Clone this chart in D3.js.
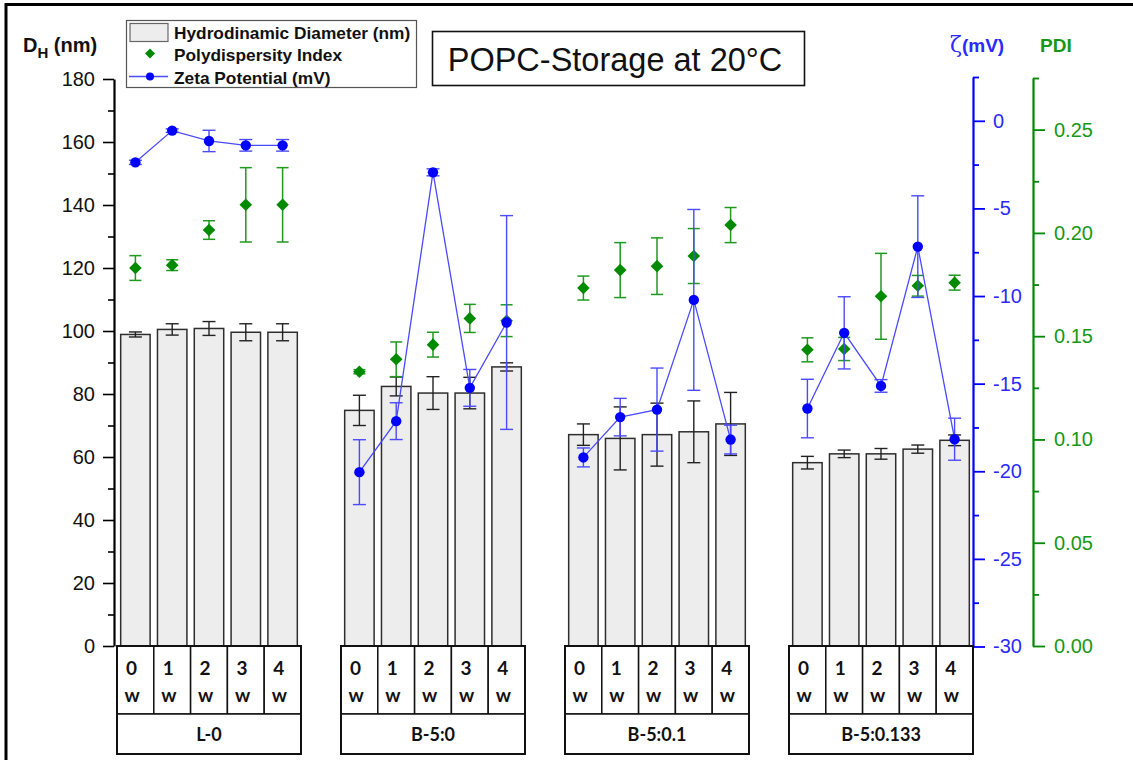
<!DOCTYPE html>
<html>
<head>
<meta charset="utf-8">
<script src="https://cdn.jsdelivr.net/npm/d3@7"></script>
<style>
  html, body { margin: 0; padding: 0; background: #fff; }
  svg { display: block; }
</style>
</head>
<body>
<div id="chart"></div>
<script>
// Sample groups and storage weeks
const groups = ["L-0", "B-5:0", "B-5:0.1", "B-5:0.133"];
const weeks = ["0", "1", "2", "3", "4"];

// Hydrodynamic diameter (nm) and its standard deviation, per group x week
const dh = [
  [98.9, 100.5, 100.8, 99.6, 99.6],
  [74.8, 82.4, 80.3, 80.3, 88.6],
  [67.1, 65.9, 67.1, 68.0, 70.5],
  [58.2, 61.0, 61.0, 62.5, 65.3]
];
const dhErr = [
  [0.8, 1.8, 2.2, 2.7, 2.7],
  [4.8, 3.0, 5.2, 5.0, 1.3],
  [3.4, 10.0, 10.0, 9.8, 10.0],
  [2.0, 1.2, 1.7, 1.3, 1.7]
];

// Zeta potential (mV)
const zeta = [
  [-2.37, -0.56, -1.15, -1.40, -1.40],
  [-20.05, -17.14, -2.94, -15.24, -11.51],
  [-19.21, -16.91, -16.48, -10.22, -18.19],
  [-16.42, -12.10, -15.13, -7.18, -18.17]
];
const zetaErr = [
  [0.12, 0.10, 0.61, 0.33, 0.33],
  [1.85, 1.05, 0.20, 1.05, 6.10],
  [0.54, 1.07, 2.37, 5.16, 0.82],
  [1.67, 2.06, 0.36, 2.90, 1.20]
];

// Polydispersity index
const pdi = [
  [0.1830, 0.1844, 0.2014, 0.2136, 0.2136],
  [0.1328, 0.1388, 0.1459, 0.1586, 0.1575],
  [0.1733, 0.1820, 0.1839, 0.1888, 0.2038],
  [0.1434, 0.1438, 0.1693, 0.1744, 0.1759]
];
const pdiErr = [
  [0.0060, 0.0026, 0.0045, 0.0180, 0.0180],
  [0.0010, 0.0084, 0.0060, 0.0068, 0.0077],
  [0.0058, 0.0133, 0.0137, 0.0133, 0.0085],
  [0.0058, 0.0056, 0.0208, 0.0050, 0.0036]
];

// Axis ticks
const dhTicks = [0, 20, 40, 60, 80, 100, 120, 140, 160, 180];
const dhMinor = [10, 30, 50, 70, 90, 110, 130, 150, 170];
const zetaTicks = [-30, -25, -20, -15, -10, -5, 0];
const zetaMinor = [-27.5, -22.5, -17.5, -12.5, -7.5, -2.5, 2.5];
const pdiTicks = [0, 0.05, 0.10, 0.15, 0.20, 0.25];
const pdiMinor = [0.025, 0.075, 0.125, 0.175, 0.225, 0.275];

const W = 1133, H = 760;
const BASE = 646;
const AXL = 114, AXZ = 973, AXP = 1033;

const BLUE = "#0000ff", BLUE_T = "#2a2aff", BLUE_L = "#4a4aff";
const GREEN = "#008800", GREEN_T = "#169816", GREEN_D = "#008a00";
const FONT = "'Liberation Sans', Arial, sans-serif";
const CELLFONT = "Lato, 'Open Sans', sans-serif";

const svg = d3.select("#chart").append("svg")
  .attr("width", W).attr("height", H)
  .attr("viewBox", `0 0 ${W} ${H}`);

svg.append("rect").attr("width", W).attr("height", H).attr("fill", "#fff");

// outer frame (top and left edges)
svg.append("path")
  .attr("d", `M6,${H} L6,4.5 L${W},4.5`)
  .attr("fill", "none").attr("stroke", "#000").attr("stroke-width", 3);

// Scales
const xG = d3.scaleBand().domain(groups).range([117, 973]).paddingInner(40 / 224).paddingOuter(0);
const xW = d3.scaleBand().domain(weeks).range([0, xG.bandwidth()]).padding(0);
const yL = d3.scaleLinear().domain([0, 180]).range([BASE, 79]);
const yZ = d3.scaleLinear().domain([-30, 2.5]).range([646.5, 77]);
const yP = d3.scaleLinear().domain([0, 0.275]).range([BASE, 78]);

const barW = xW.bandwidth() * 0.8;
const cx = (gi, wi) => xG(groups[gi]) + xW(weeks[wi]) + xW.bandwidth() / 2;

// flatten to records
const recs = [];
groups.forEach((g, gi) => weeks.forEach((w, wi) => {
  recs.push({ gi, wi, dh: dh[gi][wi], dhE: dhErr[gi][wi], z: zeta[gi][wi], zE: zetaErr[gi][wi], p: pdi[gi][wi], pE: pdiErr[gi][wi] });
}));

// Bars
svg.append("g").selectAll("rect").data(recs).join("rect")
  .attr("x", d => cx(d.gi, d.wi) - barW / 2)
  .attr("y", d => yL(d.dh))
  .attr("width", barW)
  .attr("height", d => BASE - yL(d.dh))
  .attr("fill", "#ededed")
  .attr("stroke", "#2e2e2e")
  .attr("stroke-width", 1.5);

function errorBars(g, data, xf, lo, hi, cap, color, sw) {
  const sel = g.selectAll("g").data(data).join("g");
  sel.append("line").attr("x1", xf).attr("x2", xf).attr("y1", lo).attr("y2", hi)
    .attr("stroke", color).attr("stroke-width", sw);
  sel.append("line").attr("x1", d => xf(d) - cap / 2).attr("x2", d => xf(d) + cap / 2)
    .attr("y1", lo).attr("y2", lo).attr("stroke", color).attr("stroke-width", sw);
  sel.append("line").attr("x1", d => xf(d) - cap / 2).attr("x2", d => xf(d) + cap / 2)
    .attr("y1", hi).attr("y2", hi).attr("stroke", color).attr("stroke-width", sw);
}

// DH error bars
errorBars(svg.append("g"), recs, d => cx(d.gi, d.wi),
  d => yL(d.dh - d.dhE), d => yL(d.dh + d.dhE), 13, "#222", 1.4);

// PDI error bars and diamonds
errorBars(svg.append("g"), recs, d => cx(d.gi, d.wi),
  d => yP(d.p - d.pE), d => yP(d.p + d.pE), 12, "#1f9a1f", 1.5);
svg.append("g").selectAll("path").data(recs).join("path")
  .attr("d", d => {
    const x = cx(d.gi, d.wi), y = yP(d.p), r = 6.3;
    return `M${x},${y - r}L${x + r},${y}L${x},${y + r}L${x - r},${y}Z`;
  })
  .attr("fill", GREEN_D);

// Zeta lines, one per group
const zLine = d3.line().x(d => cx(d.gi, d.wi)).y(d => yZ(d.z));
svg.append("g").selectAll("path").data(groups.map((g, gi) => recs.filter(r => r.gi === gi))).join("path")
  .attr("d", zLine)
  .attr("fill", "none").attr("stroke", BLUE_L).attr("stroke-width", 1.3);

// Zeta error bars and markers
errorBars(svg.append("g"), recs, d => cx(d.gi, d.wi),
  d => yZ(d.z - d.zE), d => yZ(d.z + d.zE), 13, BLUE_L, 1.4);
svg.append("g").selectAll("circle").data(recs).join("circle")
  .attr("cx", d => cx(d.gi, d.wi)).attr("cy", d => yZ(d.z)).attr("r", 5.2)
  .attr("fill", BLUE);

// Left axis
const gL = svg.append("g").attr("transform", `translate(${AXL},0)`);
gL.call(d3.axisLeft(yL).tickValues(dhTicks).tickSize(11).tickSizeOuter(0).tickPadding(8));
gL.append("g").call(d3.axisLeft(yL).tickValues(dhMinor).tickSize(6).tickSizeOuter(0).tickFormat(""))
  .select(".domain").remove();
gL.selectAll(".domain").attr("stroke", "#000").attr("stroke-width", 2.2);
gL.selectAll(".tick line").attr("stroke", "#000").attr("stroke-width", 1.6);
gL.selectAll(".tick text").attr("font-family", FONT).attr("font-size", 20).attr("fill", "#111");

// Zeta axis
const gZ = svg.append("g").attr("transform", `translate(${AXZ},0)`);
gZ.call(d3.axisRight(yZ).tickValues(zetaTicks).tickSize(12).tickSizeOuter(0).tickPadding(8).tickFormat(d => String(d)));
gZ.append("g").call(d3.axisRight(yZ).tickValues(zetaMinor).tickSize(6).tickSizeOuter(0).tickFormat(""))
  .select(".domain").remove();
gZ.selectAll(".domain").attr("stroke", BLUE).attr("stroke-width", 2.2);
gZ.selectAll(".tick line").attr("stroke", BLUE).attr("stroke-width", 1.8);
gZ.selectAll(".tick text").attr("font-family", FONT).attr("font-size", 20).attr("fill", BLUE_T);

// PDI axis
const gP = svg.append("g").attr("transform", `translate(${AXP},0)`);
gP.call(d3.axisRight(yP).tickValues(pdiTicks).tickSize(12).tickSizeOuter(0).tickPadding(9).tickFormat(d3.format(".2f")));
gP.append("g").call(d3.axisRight(yP).tickValues(pdiMinor).tickSize(6).tickSizeOuter(0).tickFormat(""))
  .select(".domain").remove();
gP.selectAll(".domain").attr("stroke", GREEN).attr("stroke-width", 2.2);
gP.selectAll(".tick line").attr("stroke", GREEN).attr("stroke-width", 1.8);
gP.selectAll(".tick text").attr("font-family", FONT).attr("font-size", 20).attr("fill", GREEN_T);

// Axis titles
const tL = svg.append("text").attr("x", 23).attr("y", 52)
  .attr("font-family", FONT).attr("font-weight", "bold").attr("font-size", 20).attr("fill", "#111");
tL.append("tspan").text("D");
tL.append("tspan").attr("font-size", 15).attr("dy", 6).text("H");
tL.append("tspan").attr("dy", -6).text(" (nm)");

const tZ = svg.append("text").attr("x", 950).attr("y", 52)
  .attr("font-family", FONT).attr("font-size", 19).attr("fill", BLUE_T);
tZ.append("tspan").attr("font-family", "'DejaVu Serif', serif").attr("font-size", 22).text("ζ");
tZ.append("tspan").attr("font-weight", "bold").text("(mV)");

svg.append("text").attr("x", 1040).attr("y", 52)
  .attr("font-family", FONT).attr("font-weight", "bold").attr("font-size", 19).attr("fill", GREEN_T)
  .text("PDI");

// Category table beneath the bars
const table = svg.append("g");
groups.forEach((g, gi) => {
  const x0 = xG(g), bw = xG.bandwidth();
  weeks.forEach((w, wi) => {
    const x = x0 + xW(w);
    table.append("rect").attr("x", x).attr("y", BASE).attr("width", xW.bandwidth()).attr("height", 68)
      .attr("fill", "#fff").attr("stroke", "#111").attr("stroke-width", 1.5);
    table.append("text").attr("x", x + 9).attr("y", 675)
      .attr("font-family", CELLFONT).attr("font-weight", "bold").attr("font-size", 19).attr("fill", "#111")
      .text(w);
    table.append("text").attr("x", x + 7.5).attr("y", 702)
      .attr("font-family", CELLFONT).attr("font-weight", "bold").attr("font-size", 19).attr("fill", "#111")
      .text("w");
  });
  table.append("rect").attr("x", x0).attr("y", 714).attr("width", bw).attr("height", 40)
    .attr("fill", "#fff").attr("stroke", "#111").attr("stroke-width", 1.5);
  table.append("rect").attr("x", x0).attr("y", BASE).attr("width", bw).attr("height", 108)
    .attr("fill", "none").attr("stroke", "#111").attr("stroke-width", 2);
  table.append("text").attr("x", x0 + bw / 2).attr("y", 741).attr("text-anchor", "middle")
    .attr("font-family", CELLFONT).attr("font-weight", "bold").attr("font-size", 18).attr("fill", "#111")
    .text(g);
});

// Legend
const lg = svg.append("g");
lg.append("rect").attr("x", 126.5).attr("y", 20.5).attr("width", 290).attr("height", 67)
  .attr("fill", "#fff").attr("stroke", "#555").attr("stroke-width", 1.2);
lg.append("rect").attr("x", 130).attr("y", 23.5).attr("width", 38).attr("height", 18)
  .attr("fill", "#ededed").attr("stroke", "#666").attr("stroke-width", 1.2);
lg.append("path").attr("d", "M150,48.5L155,53.5L150,58.5L145,53.5Z").attr("fill", GREEN_D);
lg.append("line").attr("x1", 129).attr("x2", 168).attr("y1", 76.5).attr("y2", 76.5)
  .attr("stroke", BLUE_L).attr("stroke-width", 1.3);
lg.append("circle").attr("cx", 150).attr("cy", 76.5).attr("r", 4).attr("fill", BLUE);
const legendItems = ["Hydrodinamic Diameter (nm)", "Polydispersity Index", "Zeta Potential (mV)"];
lg.selectAll("text.item").data(legendItems).join("text")
  .attr("class", "item")
  .attr("x", 174).attr("y", (d, i) => 39 + i * 22.3)
  .attr("font-family", FONT).attr("font-weight", "bold").attr("font-size", 17.3).attr("fill", "#111")
  .text(d => d);

// Title box
svg.append("rect").attr("x", 432.5).attr("y", 31.5).attr("width", 372).attr("height", 54)
  .attr("fill", "#fff").attr("stroke", "#111").attr("stroke-width", 1.6);
svg.append("text").attr("x", 615).attr("y", 71).attr("text-anchor", "middle")
  .attr("font-family", FONT).attr("font-size", 32.5).attr("fill", "#111")
  .text("POPC-Storage at 20°C");
</script>
</body>
</html>
